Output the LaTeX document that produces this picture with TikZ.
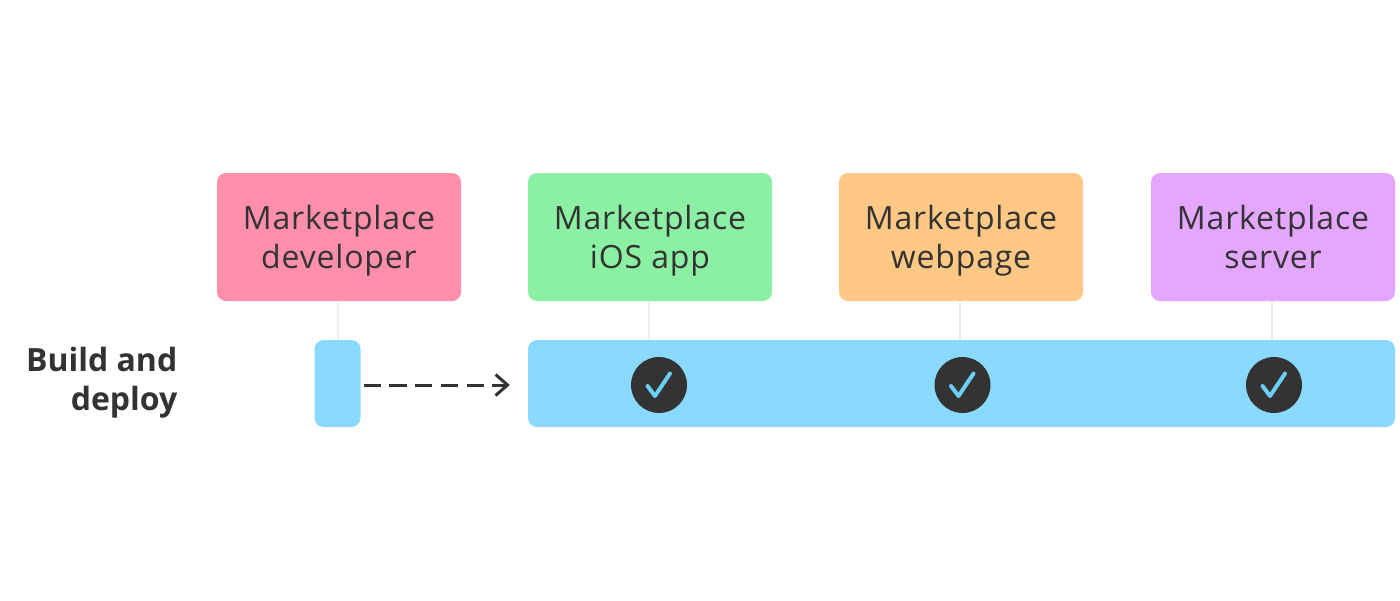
\documentclass[tikz,border=0pt]{standalone}
\usepackage{fontspec}
\setmainfont{Open Sans}
\newfontfamily\lanefont[LetterSpace=2.6]{Open Sans}
\usetikzlibrary{arrows.meta}
\definecolor{inkc}{HTML}{333333}
\definecolor{barc}{HTML}{8AD9FF}
\definecolor{tickc}{HTML}{6CCDF5}
\definecolor{linec}{HTML}{EEEEEE}
\definecolor{pinkc}{HTML}{FF8FAB}
\definecolor{greenc}{HTML}{8CF0A4}
\definecolor{orangec}{HTML}{FFC884}
\definecolor{purplec}{HTML}{E4A6FF}
\newcommand{\lanetext}[2]{\rule{0pt}{32.5pt}#1\\\vphantom{Mp}#2}
\tikzset{
  lane/.style={minimum width=244pt,minimum height=128pt,inner sep=0pt,rounded corners=9pt,align=center,text=inkc,
    font=\fontsize{32pt}{39pt}\lanefont\selectfont},
  bar/.style={fill=barc,inner sep=0pt,minimum height=87pt,rounded corners=9pt},
  stem/.style={draw=linec,line width=2.5pt},
  badge/.style={circle,fill=inkc,minimum size=56pt,inner sep=0pt},
  tick/.style={draw=tickc,line width=4pt,line cap=round,line join=round},
  flow/.style={draw=inkc,line width=3pt,dash pattern=on 17.3pt off 8.4pt,shorten <=3pt,shorten >=18pt,
    -{Straight Barb[length=12pt,width=21pt,line width=3pt]}},
  rowlabel/.style={align=right,text=inkc,inner sep=0pt,
    font=\fontsize{32pt}{39pt}\selectfont\bfseries}
}
\begin{document}
\begin{tikzpicture}[x=1pt,y=-1pt]
\useasboundingbox (0,0) rectangle (1400,600);
\node[lane,fill=pinkc] (dev) at (339,237) {\lanetext{Marketplace}{developer}};
\node[lane,fill=greenc] (ios) at (650,237) {\lanetext{Marketplace}{iOS app}};
\node[lane,fill=orangec] (web) at (961,237) {\lanetext{Marketplace}{webpage}};
\node[lane,fill=purplec] (srv) at (1273,237) {\lanetext{Marketplace}{server}};
\node[bar,minimum width=46pt] (small) at (337.5,383.5) {};
\node[bar,minimum width=867pt] (big) at (961.5,383.5) {};
\coordinate (devfoot) at (337.8,340);
\draw[stem] (337.8,301) -- (devfoot);
\coordinate (iosfoot) at (648.8,340);
\draw[stem] (648.8,301) -- (iosfoot);
\coordinate (webfoot) at (959.8,340);
\draw[stem] (959.8,301) -- (webfoot);
\coordinate (srvfoot) at (1271.8,340);
\draw[stem] (1271.8,301) -- (srvfoot);
\draw[flow] (small.east |- 0,385) -- (big.west |- 0,385);
\foreach \n/\cx in {a/659,b/962.5,c/1274}{
  \node[badge] (\n) at (\cx,385) {};
  \draw[tick] ([shift={(-11.5,1)}]\n.center) -- ([shift={(-4,11)}]\n.center) -- ([shift={(11,-11.5)}]\n.center);
}
\node[rowlabel,anchor=east] (lab) at (177.5,382.5) {\vphantom{Mp}Build and\\\vphantom{Mp}deploy};
\end{tikzpicture}
\end{document}
